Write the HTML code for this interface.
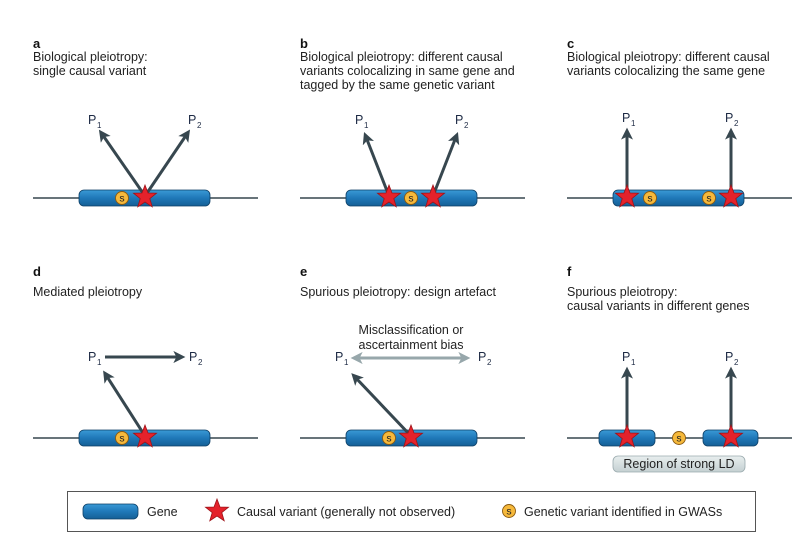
<!DOCTYPE html>
<html><head><meta charset="utf-8"><style>
html,body{margin:0;padding:0;background:#fff;}
svg{display:block;font-family:"Liberation Sans",sans-serif;}
.t{font-size:12.5px;fill:#222;}
.b{font-size:13px;font-weight:bold;fill:#111;}
.p{font-size:12.5px;fill:#1d2a44;}
.s{font-size:8px;fill:#1d2a44;}
</style></head><body>
<svg width="807" height="541" viewBox="0 0 807 541" xmlns="http://www.w3.org/2000/svg">
<defs>
<linearGradient id="g" x1="0" y1="0" x2="0" y2="1"><stop offset="0" stop-color="#3a9ad6"/><stop offset="0.5" stop-color="#1f78b8"/><stop offset="1" stop-color="#155f96"/></linearGradient>
<linearGradient id="ld" x1="0" y1="0" x2="0" y2="1"><stop offset="0" stop-color="#e8eeee"/><stop offset="1" stop-color="#c4d0d2"/></linearGradient>
<marker id="a" markerWidth="4" markerHeight="4" refX="2.2" refY="2" orient="auto" markerUnits="strokeWidth"><path d="M0,0 L4,2 L0,4 L1,2 z" fill="#37474f"/></marker>
<marker id="ag" markerWidth="4" markerHeight="4" refX="2.2" refY="2" orient="auto-start-reverse" markerUnits="strokeWidth"><path d="M0,0 L4,2 L0,4 L1,2 z" fill="#97a7ab"/></marker>
<g id="st"><polygon points="0,-12 3,-4 11.5,-3.8 4.8,1.6 7.2,9.8 0,5 -7.2,9.8 -4.8,1.6 -11.5,-3.8 -3,-4" fill="#e4222b" stroke="#9e1218" stroke-width="0.8"/></g>
<g id="sv"><circle r="6.5" fill="#f6b93b" stroke="#8a5a10" stroke-width="0.9"/><text y="3.6" text-anchor="middle" font-size="10.5" fill="#222">s</text></g>
</defs>

<text x="33" y="48" class="b">a</text>
<text x="33" y="61" class="t">Biological pleiotropy:</text>
<text x="33" y="75" class="t">single causal variant</text>
<text x="300" y="48" class="b">b</text>
<text x="300" y="61" class="t">Biological pleiotropy: different causal</text>
<text x="300" y="75" class="t">variants colocalizing in same gene and</text>
<text x="300" y="89" class="t">tagged by the same genetic variant</text>
<text x="567" y="48" class="b">c</text>
<text x="567" y="61" class="t">Biological pleiotropy: different causal</text>
<text x="567" y="75" class="t">variants colocalizing the same gene</text>
<text x="33" y="276" class="b">d</text>
<text x="33" y="296" class="t">Mediated pleiotropy</text>
<text x="300" y="276" class="b">e</text>
<text x="300" y="296" class="t">Spurious pleiotropy: design artefact</text>
<text x="567" y="276" class="b">f</text>
<text x="567" y="296" class="t">Spurious pleiotropy:</text>
<text x="567" y="310" class="t">causal variants in different genes</text>

<g stroke="#37474f" stroke-width="1.6">
<line x1="33" y1="198" x2="258" y2="198"/>
<line x1="300" y1="198" x2="525" y2="198"/>
<line x1="567" y1="198" x2="792" y2="198"/>
<line x1="33" y1="438" x2="258" y2="438"/>
<line x1="300" y1="438" x2="525" y2="438"/>
<line x1="567" y1="438" x2="792" y2="438"/>
</g>
<g fill="url(#g)" stroke="#0d3f66" stroke-width="0.8">
<rect x="79" y="190" width="131" height="16" rx="5"/>
<rect x="346" y="190" width="131" height="16" rx="5"/>
<rect x="613" y="190" width="131" height="16" rx="5"/>
<rect x="79" y="430" width="131" height="16" rx="5"/>
<rect x="346" y="430" width="131" height="16" rx="5"/>
<rect x="599" y="430" width="56" height="16" rx="5"/>
<rect x="703" y="430" width="55" height="16" rx="5"/>
</g>

<g stroke="#37474f" stroke-width="3" fill="none" marker-end="url(#a)">
<line x1="145" y1="196" x2="102" y2="134"/>
<line x1="145" y1="196" x2="187" y2="134"/>
<line x1="389" y1="196" x2="366" y2="137"/>
<line x1="433" y1="196" x2="456" y2="137"/>
<line x1="627" y1="196" x2="627" y2="133"/>
<line x1="731" y1="196" x2="731" y2="133"/>
<line x1="145" y1="436" x2="106" y2="375"/>
<line x1="105" y1="357" x2="180" y2="357"/>
<line x1="411" y1="436" x2="355" y2="377"/>
<line x1="627" y1="436" x2="627" y2="372"/>
<line x1="731" y1="436" x2="731" y2="372"/>
</g>
<line x1="356" y1="358" x2="465" y2="358" stroke="#97a7ab" stroke-width="3" marker-start="url(#ag)" marker-end="url(#ag)"/>

<use href="#sv" x="122" y="198"/><use href="#st" x="145" y="197"/>
<use href="#sv" x="411" y="198"/><use href="#st" x="389" y="197"/><use href="#st" x="433" y="197"/>
<use href="#sv" x="650" y="198"/><use href="#sv" x="709" y="198"/><use href="#st" x="627" y="197"/><use href="#st" x="731" y="197"/>
<use href="#sv" x="122" y="438"/><use href="#st" x="145" y="437"/>
<use href="#sv" x="389" y="438"/><use href="#st" x="411" y="437"/>
<use href="#sv" x="679" y="438"/><use href="#st" x="627" y="437"/><use href="#st" x="731" y="437"/>

<text x="88" y="124" class="p">P</text><text x="97" y="128" class="s">1</text>
<text x="188" y="124" class="p">P</text><text x="197" y="128" class="s">2</text>
<text x="355" y="124" class="p">P</text><text x="364" y="128" class="s">1</text>
<text x="455" y="124" class="p">P</text><text x="464" y="128" class="s">2</text>
<text x="622" y="122" class="p">P</text><text x="631" y="126" class="s">1</text>
<text x="725" y="122" class="p">P</text><text x="734" y="126" class="s">2</text>
<text x="88" y="361" class="p">P</text><text x="97" y="365" class="s">1</text>
<text x="189" y="361" class="p">P</text><text x="198" y="365" class="s">2</text>
<text x="335" y="361" class="p">P</text><text x="344" y="365" class="s">1</text>
<text x="478" y="361" class="p">P</text><text x="487" y="365" class="s">2</text>
<text x="622" y="361" class="p">P</text><text x="631" y="365" class="s">1</text>
<text x="725" y="361" class="p">P</text><text x="734" y="365" class="s">2</text>

<text x="411" y="334" class="t" text-anchor="middle">Misclassification or</text>
<text x="411" y="349" class="t" text-anchor="middle">ascertainment bias</text>

<rect x="613" y="456" width="132" height="16" rx="5" fill="url(#ld)" stroke="#9aaaae" stroke-width="0.8"/>
<text x="679" y="468" class="t" text-anchor="middle">Region of strong LD</text>

<rect x="67.5" y="491.5" width="688" height="40" fill="#fff" stroke="#555" stroke-width="1"/>
<rect x="83" y="504" width="55" height="15" rx="5" fill="url(#g)" stroke="#0d3f66" stroke-width="0.8"/>
<text x="147" y="516" class="t">Gene</text>
<use href="#st" x="217" y="511"/>
<text x="237" y="516" class="t">Causal variant (generally not observed)</text>
<use href="#sv" x="509" y="511"/>
<text x="524" y="516" class="t">Genetic variant identified in GWASs</text>
</svg>
</body></html>
